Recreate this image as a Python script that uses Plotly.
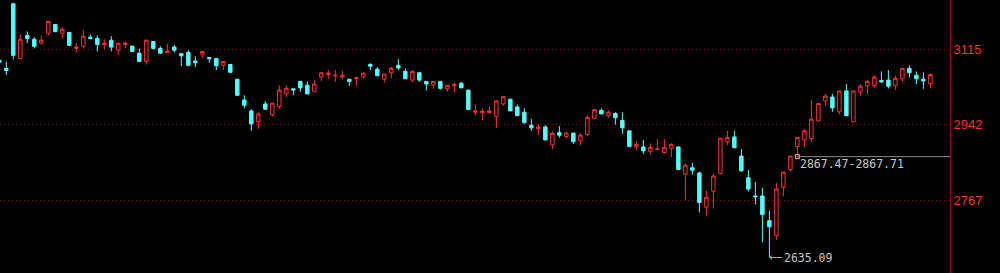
import plotly.graph_objects as go

# OHLC values (oldest -> newest)
opens = [3090, 3071, 3220, 3094, 3147, 3138, 3129, 3152, 3172, 3152,
         3154, 3117, 3122, 3143, 3140, 3126, 3136, 3113, 3126, 3122,
         3106, 3087, 3133, 3117, 3107, 3120, 3105, 3108, 3088, 3104,
         3096, 3094, 3078, 3080, 3046, 2998, 2973, 2948, 2989, 2964,
         2983, 3012, 3024, 3041, 3032, 3017, 3051, 3057, 3054, 3051,
         3046, 3048, 3051, 3080, 3069, 3046, 3061, 3078, 3064, 3044,
         3061, 3041, 3033, 3041, 3024, 3031, 3037, 3021, 2970, 2969,
         2969, 2960, 2989, 3000, 2982, 2970, 2940, 2932, 2936, 2895,
         2923, 2914, 2922, 2904, 2919, 2956, 2974, 2962, 2967, 2951,
         2927, 2890, 2890, 2880, 2884, 2877, 2887, 2890, 2827, 2842,
         2830, 2751, 2788, 2829, 2902, 2913, 2869, 2819, 2777, 2777,
         2720, 2686, 2797, 2838, 2891, 2906, 2909, 2950, 2996, 3005,
         2971, 3019, 2948, 3017, 3031, 3031, 3043, 3044, 3031, 3047,
         3071, 3055, 3046, 3036]
highs = [3092, 3087, 3222, 3149, 3156, 3143, 3147, 3179, 3172, 3166,
         3154, 3129, 3159, 3149, 3147, 3138, 3145, 3131, 3133, 3124,
         3117, 3136, 3133, 3122, 3128, 3125, 3105, 3113, 3099, 3110,
         3097, 3094, 3087, 3080, 3046, 3009, 2977, 2970, 2996, 2991,
         3032, 3032, 3024, 3041, 3041, 3044, 3061, 3067, 3067, 3066,
         3046, 3050, 3062, 3083, 3074, 3058, 3075, 3092, 3071, 3067,
         3061, 3041, 3041, 3041, 3032, 3038, 3040, 3021, 2988, 2979,
         2984, 2998, 3006, 3000, 2988, 2979, 2954, 2943, 2940, 2926,
         2938, 2925, 2922, 2922, 2963, 2976, 2979, 2974, 2970, 2970,
         2927, 2904, 2906, 2898, 2908, 2908, 2898, 2890, 2852, 2853,
         2833, 2789, 2828, 2910, 2927, 2927, 2885, 2837, 2809, 2796,
         2743, 2807, 2832, 2869, 2912, 2931, 2998, 2990, 3012, 3012,
         3019, 3035, 3019, 3035, 3045, 3055, 3064, 3067, 3054, 3071,
         3078, 3064, 3062, 3060]
lows = [3083, 3055, 3092, 3094, 3129, 3117, 3126, 3147, 3154, 3140,
        3124, 3108, 3117, 3138, 3110, 3115, 3110, 3101, 3117, 3110,
        3087, 3080, 3115, 3106, 3107, 3108, 3076, 3076, 3074, 3094,
        3084, 3067, 3067, 3061, 3007, 2979, 2927, 2932, 2975, 2960,
        2977, 3005, 3009, 3017, 3012, 3017, 3042, 3046, 3040, 3046,
        3031, 3031, 3048, 3067, 3054, 3038, 3048, 3067, 3047, 3038,
        3040, 3020, 3024, 3022, 3017, 3016, 3026, 2976, 2963, 2952,
        2967, 2933, 2985, 2973, 2962, 2943, 2927, 2917, 2906, 2885,
        2911, 2909, 2897, 2894, 2914, 2956, 2966, 2957, 2941, 2920,
        2891, 2883, 2874, 2872, 2884, 2875, 2866, 2838, 2767, 2826,
        2739, 2730, 2748, 2827, 2894, 2888, 2832, 2787, 2757, 2670,
        2635.09, 2675, 2776, 2833, 2867.47, 2889, 2902, 2948, 2985, 2971,
        2965, 2962, 2948, 3008, 3012, 3026, 3037, 3025, 3021, 3040,
        3050, 3035, 3024, 3026]
closes = [3085, 3066, 3101, 3138, 3140, 3122, 3136, 3179, 3156, 3161,
          3124, 3120, 3145, 3140, 3126, 3129, 3120, 3129, 3129, 3110,
          3087, 3136, 3117, 3106, 3111, 3113, 3100, 3078, 3084, 3110,
          3093, 3077, 3087, 3062, 3009, 2986, 2943, 2966, 2977, 2991,
          3021, 3025, 3021, 3026, 3012, 3035, 3061, 3060, 3055, 3055,
          3041, 3050, 3060, 3076, 3054, 3058, 3071, 3072, 3047, 3064,
          3044, 3035, 3041, 3025, 3032, 3034, 3026, 2976, 2973, 2972,
          2973, 2996, 3006, 2973, 2962, 2946, 2934, 2936, 2906, 2921,
          2917, 2922, 2902, 2917, 2958, 2976, 2966, 2970, 2957, 2934,
          2891, 2896, 2881, 2889, 2885, 2889, 2896, 2838, 2848, 2836,
          2762, 2774, 2823, 2910, 2912, 2888, 2835, 2793, 2775, 2734,
          2706, 2793, 2832, 2869, 2912, 2927, 2954, 2990, 3007, 2980,
          3019, 2962, 3019, 3030, 3041, 3051, 3040, 3030, 3048, 3071,
          3061, 3047, 3042, 3057]

price_ticks = [2767, 2942, 3115]
low_text = "2635.09"
range_text = "2867.47-2867.71"
range_lo, range_hi = 2867.47, 2867.71

n = len(opens)
idx = list(range(n))
low_idx = lows.index(min(lows))
range_idx = lows.index(range_lo)

RED = "#FF3232"
CYAN = "#54FFFF"
GRID = "#A00000"
GREY = "#C8C8C8"

x_lo, x_hi = 0.1, 135.8
y_lo, y_hi = 2599.4, 3228.6

fig = go.Figure()
fig.add_trace(go.Candlestick(
    x=idx, open=opens, high=highs, low=lows, close=closes,
    increasing=dict(line=dict(color=RED, width=1), fillcolor="#000000"),
    decreasing=dict(line=dict(color=CYAN, width=1), fillcolor=CYAN),
    whiskerwidth=0, hoverinfo="skip", showlegend=False,
))

mid = (range_lo + range_hi) / 2
fig.add_shape(type="line", xref="x", yref="y", x0=range_idx, x1=x_hi,
              y0=mid, y1=mid, line=dict(color="#8C8C8C", width=1))
fig.add_trace(go.Scatter(
    x=[range_idx], y=[mid], mode="markers", hoverinfo="skip", showlegend=False,
    marker=dict(symbol="square", size=4, color="#7A0000",
                line=dict(color="#C0C0C0", width=1)),
))
fig.add_annotation(x=range_idx, y=mid, text=range_text, showarrow=False,
                   xanchor="left", yanchor="top", xshift=1, yshift=2,
                   font=dict(family="DejaVu Sans Mono", size=11.5, color=GREY))
fig.add_annotation(x=low_idx, y=min(lows), text=low_text, showarrow=True,
                   ax=13, ay=0, xanchor="left", yanchor="middle",
                   arrowhead=1, arrowsize=0.8, arrowwidth=1, arrowcolor="#A0A0A0",
                   font=dict(family="DejaVu Sans Mono", size=11.5, color=GREY))

fig.update_layout(
    width=1000, height=273,
    margin=dict(l=0, r=50, t=0, b=0),
    paper_bgcolor="#000000", plot_bgcolor="#000000",
    xaxis=dict(range=[x_lo, x_hi], showgrid=False, zeroline=False,
               showticklabels=False, ticks="", rangeslider=dict(visible=False),
               fixedrange=True),
    yaxis=dict(range=[y_lo, y_hi], side="right", tickvals=price_ticks,
               ticktext=[str(v) for v in price_ticks],
               showgrid=True, gridcolor=GRID, griddash="1px,3px", gridwidth=1,
               zeroline=False, showline=True, linecolor="#8B0000", linewidth=1,
               ticks="", tickfont=dict(family="Liberation Sans", size=13, color=RED),
               fixedrange=True),
)

fig.write_html("out.html")
